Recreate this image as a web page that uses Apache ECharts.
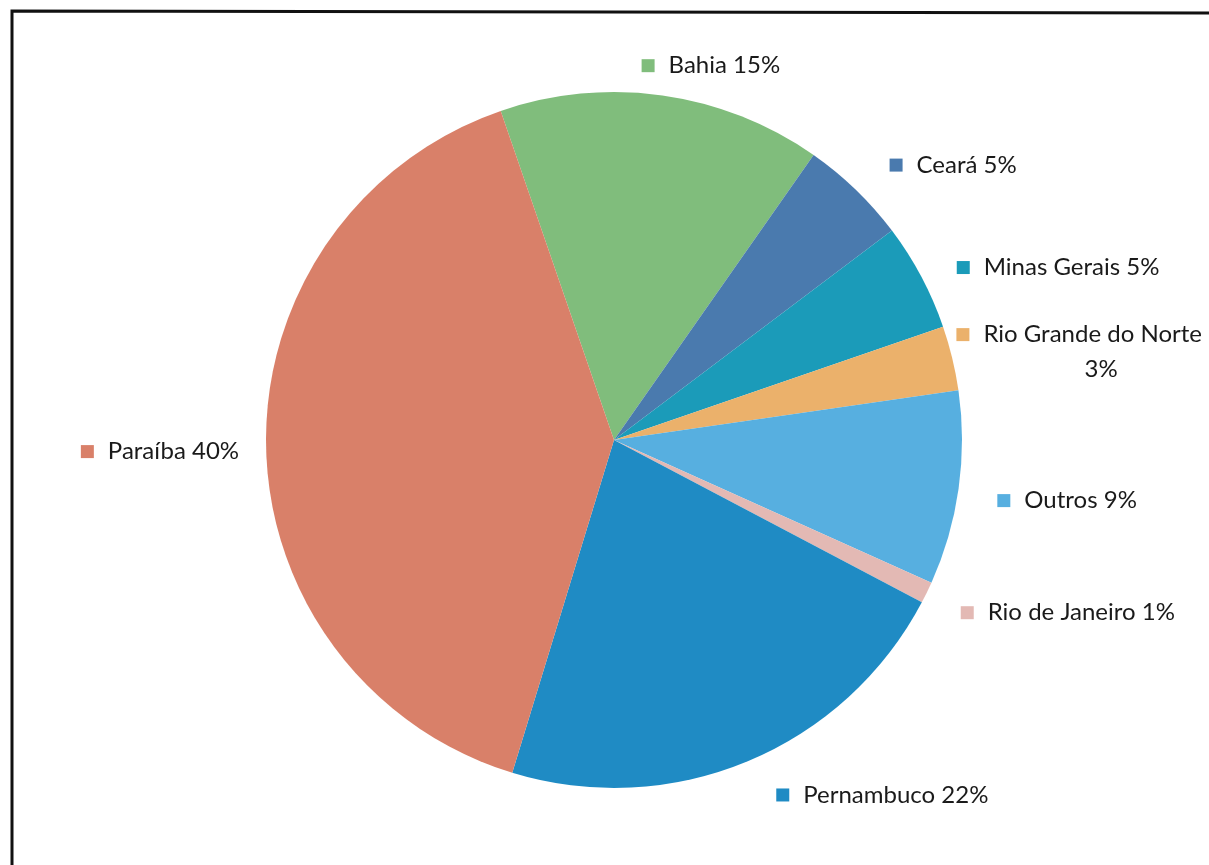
<!DOCTYPE html>
<html>
<head>
<meta charset="utf-8">
<script src="https://cdn.jsdelivr.net/npm/echarts@6/dist/echarts.min.js"></script>
<style>
  html, body { margin: 0; padding: 0; background: #fff; }
  #chart { width: 1209px; height: 865px; }
</style>
</head>
<body>
<div id="chart"></div>
<script>
// Origem por estado (%)
const states = ['Bahia', 'Ceará', 'Minas Gerais', 'Rio Grande do Norte', 'Outros', 'Rio de Janeiro', 'Pernambuco', 'Paraíba'];
const shares = [15, 5, 5, 3, 9, 1, 22, 40];
const colors = ['#80bd7c', '#4a7aae', '#1b9bb9', '#ebb16b', '#57afe0', '#e3b9b4', '#1f8bc4', '#d98069'];
// nudges of the outside labels
const labelShiftX = [-30, 8, 4, -30, 4, 2, 12, 8];
const labelShiftY = [0, -3, 5, 1, 8, 7, 6, 5];

const font = 'Lato, "Open Sans", sans-serif';
const rich = {
  t: { fontFamily: font, fontSize: 24, color: '#1a1a1a', lineHeight: 35, padding: [0, 0, 0, 4] },
  c: { fontFamily: font, fontSize: 24, color: '#1a1a1a', lineHeight: 35, align: 'center', padding: [0, 0, 0, 44] }
};
colors.forEach((c, i) => {
  rich['sq' + i] = { backgroundColor: c, width: 13, height: 13 };
});

const data = states.map((name, i) => ({
  name,
  value: shares[i],
  itemStyle: { color: colors[i] }
}));

const chart = echarts.init(document.getElementById('chart'));
chart.setOption({
  animation: false,
  backgroundColor: '#fff',
  graphic: [{
    type: 'polyline',
    shape: { points: [[12, 870], [12, 11], [1215, 13]] },
    style: { stroke: '#111', lineWidth: 3, fill: null }
  }],
  series: [{
    type: 'pie',
    center: [614, 440],
    radius: 348,
    startAngle: 109,
    clockwise: true,
    avoidLabelOverlap: false,
    data,
    label: {
      show: true,
      position: 'outside',
      overflow: 'none',
      formatter: (p) => {
        const i = p.dataIndex;
        if (p.name === 'Rio Grande do Norte') {
          return '{sq' + i + '|}   {t|' + p.name + '}\n{c|' + p.value + '%}';
        }
        return '{sq' + i + '|}   {t|' + p.name + ' ' + p.value + '%}';
      },
      rich
    },
    labelLine: { show: false, length: 30, length2: 0 },
    labelLayout: (params) => ({ dx: labelShiftX[params.dataIndex], dy: labelShiftY[params.dataIndex] })
  }]
});
</script>
</body>
</html>
